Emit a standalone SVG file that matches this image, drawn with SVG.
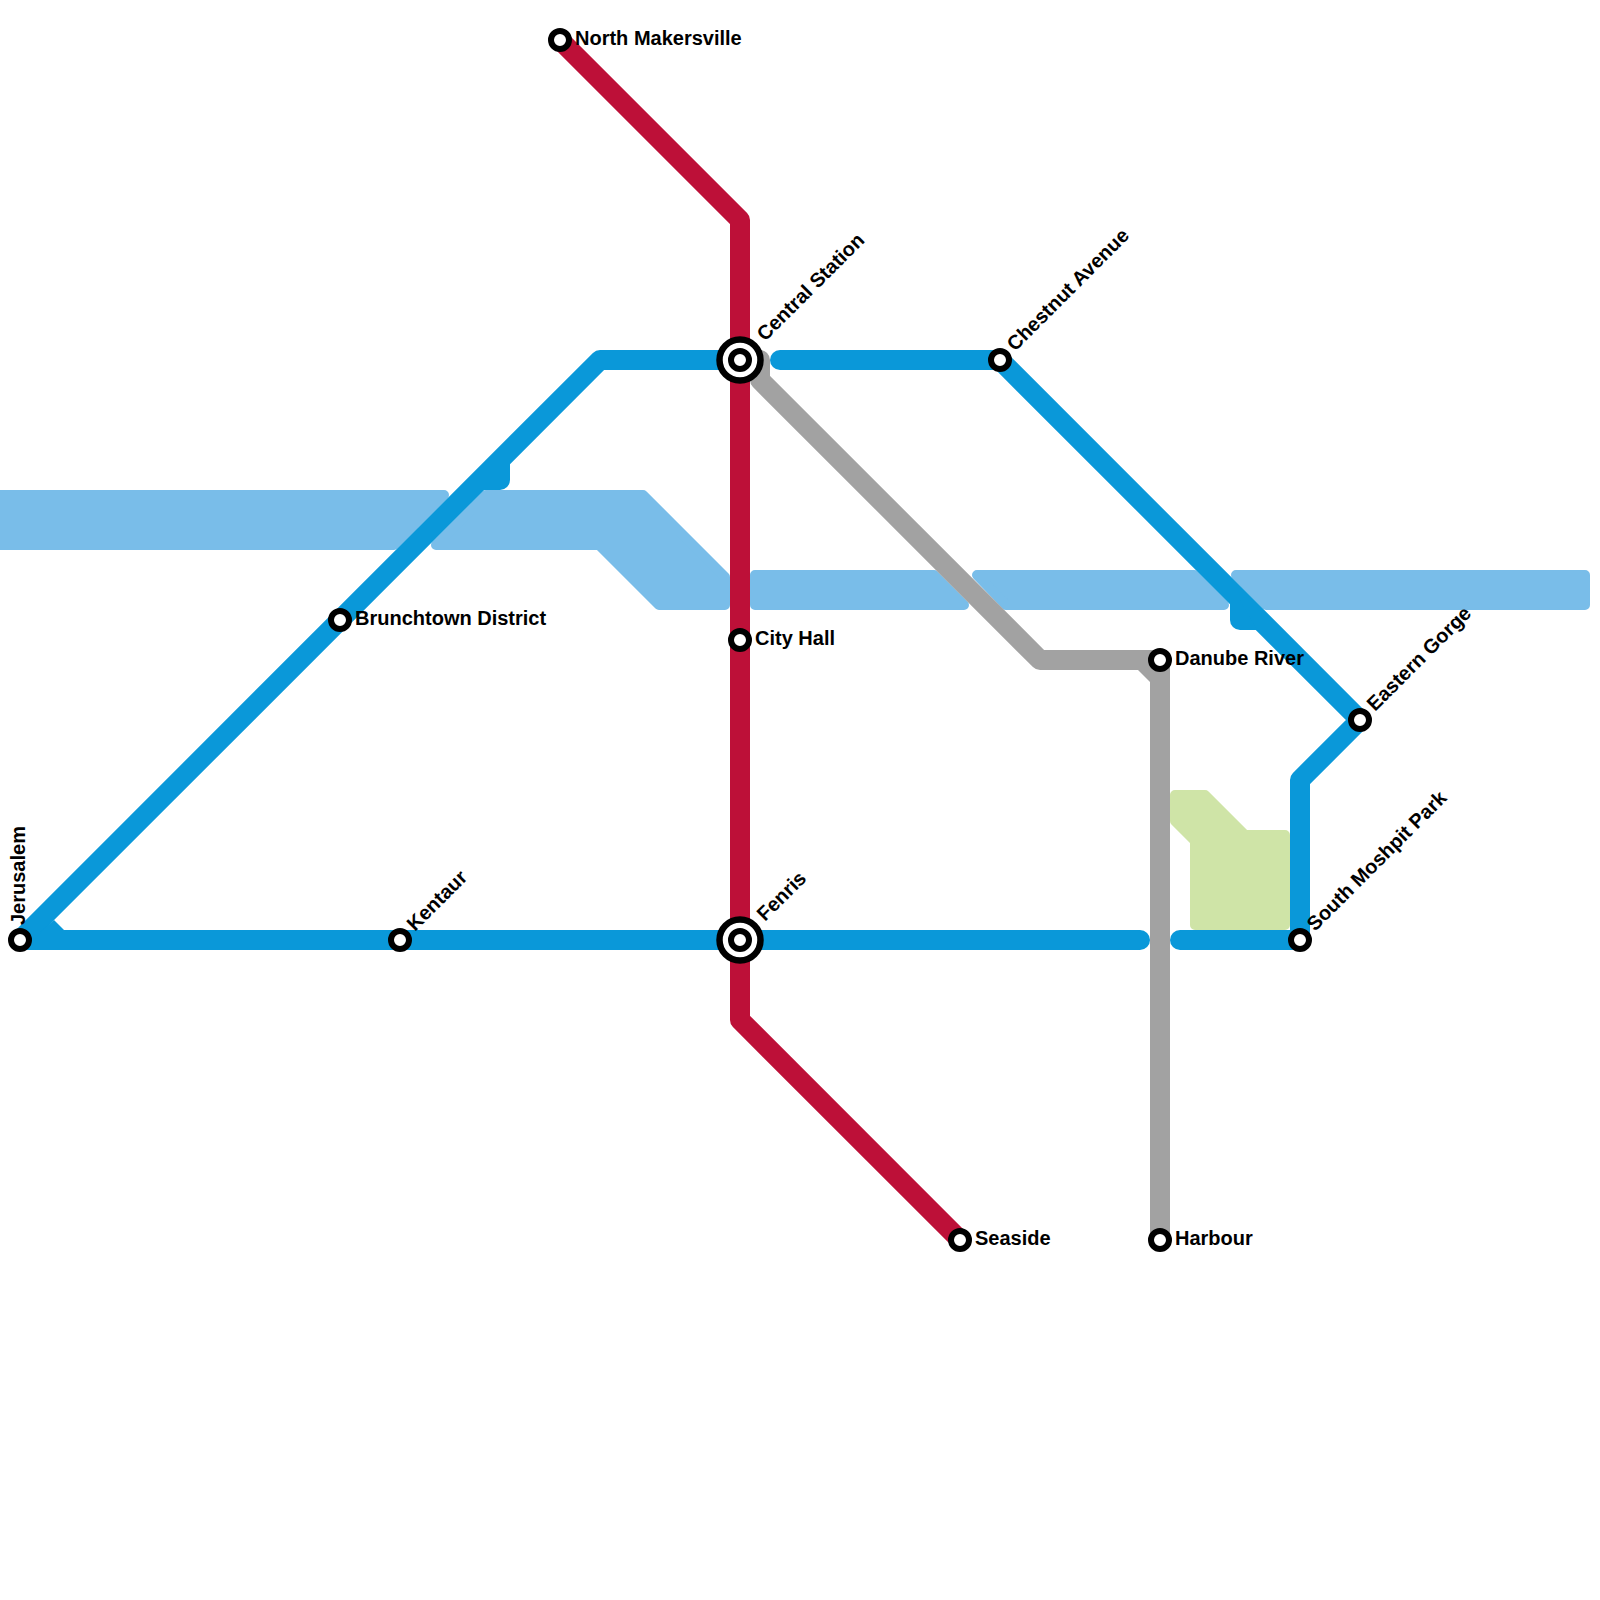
<svg xmlns="http://www.w3.org/2000/svg" width="1600" height="1600" viewBox="0 0 1600 1600">
<style>
.water{fill:#79bde9;stroke:#79bde9;stroke-width:10;stroke-linejoin:round}
.park{fill:#cfe4a7;stroke:#cfe4a7;stroke-width:10;stroke-linejoin:round}
.line{fill:none;stroke-width:20;stroke-linejoin:round;stroke-linecap:butt}
.cap{stroke-linecap:round}
.blue{stroke:#0a98d9}.red{stroke:#bd1038}.gray{stroke:#a2a2a2}
.bluef{fill:#0a98d9}.grayf{fill:#a2a2a2}
.st{fill:#fff;stroke:#000;stroke-width:6}
.ring{fill:#fff;stroke:#000;stroke-width:6.5}
text{font-family:"Liberation Sans",Arial,sans-serif;font-weight:700;font-size:20px;fill:#000}
</style>
<g id="water">
<path class="water" d="M-10 495H444L394 545H-10Z"/>
<path class="water" d="M486 495H643L725 577V605H659L599 545H436Z"/>
<path class="water" d="M755 575H934L964 605H755Z"/>
<path class="water" d="M977 575H1194L1224 605H1006Z"/>
<path class="water" d="M1236 575H1585V605H1266Z"/>
</g>
<g id="park">
<path class="park" d="M1175 795H1205L1245 835H1285V925H1195V841L1175 821Z"/>
</g>
<g id="connectors">
<path class="line blue" d="M20 940H720"/>
<path class="line blue" d="M20 940L600 360H720"/>
<path class="bluef" d="M40 932L54 920L64 930V932Z"/>
<path class="bluef" d="M510 460V480A10 10 0 0 1 500 490H480Z"/>
<path class="line blue cap" d="M780 360H1000"/>
<path class="line blue" d="M1000 360L1360 720L1300 780V940"/>
<path class="bluef" d="M1230 590V620A10 10 0 0 0 1240 630H1257L1240 600Z"/>
<path class="line blue cap" d="M720 940H1140"/>
<path class="line blue cap" d="M1180 940H1300"/>
<path class="line gray cap" d="M760 360V380L1040 660H1160V1240"/>
<path class="grayf" d="M1137 669L1151 683V669Z"/>
<path class="line red" d="M560 40L740 220V1020L960 1240"/>
</g>
<g id="jerusalem"><circle class="st" cx="20" cy="940" r="9"/><text transform="translate(25 925) rotate(-90)">Jerusalem</text></g>
<g id="kentaur"><circle class="st" cx="400" cy="940" r="9"/><text transform="translate(415 932) rotate(-45)">Kentaur</text></g>
<g id="brunchtown"><circle class="st" cx="340" cy="620" r="9"/><text x="355" y="625">Brunchtown District</text></g>
<g id="north-makersville"><circle class="st" cx="560" cy="40" r="9"/><text x="575" y="45">North Makersville</text></g>
<g id="central"><circle class="ring" cx="740" cy="360" r="20.5"/><circle class="st" cx="740" cy="360" r="9"/><text transform="translate(765 342) rotate(-45)">Central Station</text></g>
<g id="city-hall"><circle class="st" cx="740" cy="640" r="9"/><text x="755" y="645">City Hall</text></g>
<g id="fenris"><circle class="ring" cx="740" cy="940" r="20.5"/><circle class="st" cx="740" cy="940" r="9"/><text transform="translate(765 922) rotate(-45)">Fenris</text></g>
<g id="seaside"><circle class="st" cx="960" cy="1240" r="9"/><text x="975" y="1245">Seaside</text></g>
<g id="chestnut"><circle class="st" cx="1000" cy="360" r="9"/><text transform="translate(1015 352) rotate(-45)">Chestnut Avenue</text></g>
<g id="danube"><circle class="st" cx="1160" cy="660" r="9"/><text x="1175" y="665">Danube River</text></g>
<g id="harbour"><circle class="st" cx="1160" cy="1240" r="9"/><text x="1175" y="1245">Harbour</text></g>
<g id="eastern-gorge"><circle class="st" cx="1360" cy="720" r="9"/><text transform="translate(1375 712) rotate(-45)">Eastern Gorge</text></g>
<g id="south-moshpit"><circle class="st" cx="1300" cy="940" r="9"/><text transform="translate(1315 932) rotate(-45)">South Moshpit Park</text></g>
</svg>
